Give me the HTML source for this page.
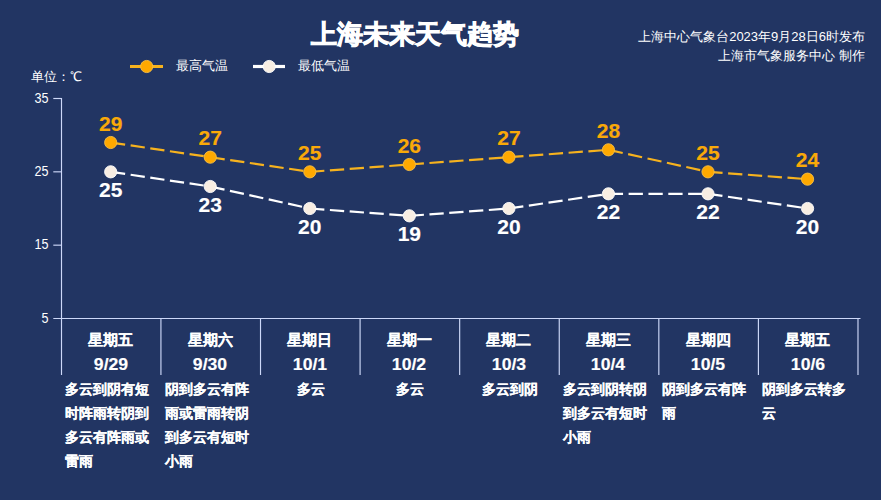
<!DOCTYPE html>
<html><head><meta charset="utf-8"><style>
html,body{margin:0;padding:0;}
body{width:881px;height:500px;background:#223563;position:relative;overflow:hidden;font-family:"Liberation Sans",sans-serif;}
.t{position:absolute;white-space:nowrap;line-height:1.2;}
.b{-webkit-text-stroke:0.15px currentColor;}
svg{position:absolute;left:0;top:0;}
</style></head><body>
<svg width="881" height="500" viewBox="0 0 881 500">
<line x1="61.5" y1="98" x2="61.5" y2="375" stroke="#cdd8f8" stroke-width="1.15"/>
<line x1="53.3" y1="318.5" x2="860.5" y2="318.5" stroke="#cdd8f8" stroke-width="1.15"/>
<line x1="53.3" y1="98.50" x2="61.5" y2="98.50" stroke="#cdd8f8" stroke-width="1.15"/>
<line x1="53.3" y1="171.83" x2="61.5" y2="171.83" stroke="#cdd8f8" stroke-width="1.15"/>
<line x1="53.3" y1="245.17" x2="61.5" y2="245.17" stroke="#cdd8f8" stroke-width="1.15"/>
<line x1="160.93" y1="318.5" x2="160.93" y2="375" stroke="#cdd8f8" stroke-width="1.15"/>
<line x1="260.51" y1="318.5" x2="260.51" y2="375" stroke="#cdd8f8" stroke-width="1.15"/>
<line x1="360.09" y1="318.5" x2="360.09" y2="375" stroke="#cdd8f8" stroke-width="1.15"/>
<line x1="459.67" y1="318.5" x2="459.67" y2="375" stroke="#cdd8f8" stroke-width="1.15"/>
<line x1="559.25" y1="318.5" x2="559.25" y2="375" stroke="#cdd8f8" stroke-width="1.15"/>
<line x1="658.83" y1="318.5" x2="658.83" y2="375" stroke="#cdd8f8" stroke-width="1.15"/>
<line x1="758.41" y1="318.5" x2="758.41" y2="375" stroke="#cdd8f8" stroke-width="1.15"/>
<line x1="857.99" y1="318.5" x2="857.99" y2="375" stroke="#cdd8f8" stroke-width="1.15"/>
<line x1="110.70" y1="142.50" x2="210.25" y2="157.17" stroke="#f6b21e" stroke-width="2.2" stroke-dasharray="14.3 5.55" stroke-dashoffset="-0.3"/>
<line x1="210.25" y1="157.17" x2="309.80" y2="171.83" stroke="#f6b21e" stroke-width="2.2" stroke-dasharray="14.3 5.55" stroke-dashoffset="-0.3"/>
<line x1="309.80" y1="171.83" x2="409.35" y2="164.50" stroke="#f6b21e" stroke-width="2.2" stroke-dasharray="14.3 5.55" stroke-dashoffset="-0.3"/>
<line x1="409.35" y1="164.50" x2="508.90" y2="157.17" stroke="#f6b21e" stroke-width="2.2" stroke-dasharray="14.3 5.55" stroke-dashoffset="-0.3"/>
<line x1="508.90" y1="157.17" x2="608.45" y2="149.83" stroke="#f6b21e" stroke-width="2.2" stroke-dasharray="14.3 5.55" stroke-dashoffset="-0.3"/>
<line x1="608.45" y1="149.83" x2="708.00" y2="171.83" stroke="#f6b21e" stroke-width="2.2" stroke-dasharray="14.3 5.55" stroke-dashoffset="-0.3"/>
<line x1="708.00" y1="171.83" x2="807.55" y2="179.17" stroke="#f6b21e" stroke-width="2.2" stroke-dasharray="14.3 5.55" stroke-dashoffset="-0.3"/>
<line x1="110.70" y1="171.83" x2="210.25" y2="186.50" stroke="#ffffff" stroke-width="2.2" stroke-dasharray="14.3 5.55" stroke-dashoffset="-0.3"/>
<line x1="210.25" y1="186.50" x2="309.80" y2="208.50" stroke="#ffffff" stroke-width="2.2" stroke-dasharray="14.3 5.55" stroke-dashoffset="-0.3"/>
<line x1="309.80" y1="208.50" x2="409.35" y2="215.83" stroke="#ffffff" stroke-width="2.2" stroke-dasharray="14.3 5.55" stroke-dashoffset="-0.3"/>
<line x1="409.35" y1="215.83" x2="508.90" y2="208.50" stroke="#ffffff" stroke-width="2.2" stroke-dasharray="14.3 5.55" stroke-dashoffset="-0.3"/>
<line x1="508.90" y1="208.50" x2="608.45" y2="193.83" stroke="#ffffff" stroke-width="2.2" stroke-dasharray="14.3 5.55" stroke-dashoffset="-0.3"/>
<line x1="608.45" y1="193.83" x2="708.00" y2="193.83" stroke="#ffffff" stroke-width="2.2" stroke-dasharray="14.3 5.55" stroke-dashoffset="-0.3"/>
<line x1="708.00" y1="193.83" x2="807.55" y2="208.50" stroke="#ffffff" stroke-width="2.2" stroke-dasharray="14.3 5.55" stroke-dashoffset="-0.3"/>
<circle cx="110.70" cy="142.50" r="6.1" fill="#ffa900" stroke="#f7be45" stroke-width="0.9"/>
<circle cx="210.25" cy="157.17" r="6.1" fill="#ffa900" stroke="#f7be45" stroke-width="0.9"/>
<circle cx="309.80" cy="171.83" r="6.1" fill="#ffa900" stroke="#f7be45" stroke-width="0.9"/>
<circle cx="409.35" cy="164.50" r="6.1" fill="#ffa900" stroke="#f7be45" stroke-width="0.9"/>
<circle cx="508.90" cy="157.17" r="6.1" fill="#ffa900" stroke="#f7be45" stroke-width="0.9"/>
<circle cx="608.45" cy="149.83" r="6.1" fill="#ffa900" stroke="#f7be45" stroke-width="0.9"/>
<circle cx="708.00" cy="171.83" r="6.1" fill="#ffa900" stroke="#f7be45" stroke-width="0.9"/>
<circle cx="807.55" cy="179.17" r="6.1" fill="#ffa900" stroke="#f7be45" stroke-width="0.9"/>
<circle cx="110.70" cy="171.83" r="6.1" fill="#f8eee3" stroke="#ffffff" stroke-width="0.9"/>
<circle cx="210.25" cy="186.50" r="6.1" fill="#f8eee3" stroke="#ffffff" stroke-width="0.9"/>
<circle cx="309.80" cy="208.50" r="6.1" fill="#f8eee3" stroke="#ffffff" stroke-width="0.9"/>
<circle cx="409.35" cy="215.83" r="6.1" fill="#f8eee3" stroke="#ffffff" stroke-width="0.9"/>
<circle cx="508.90" cy="208.50" r="6.1" fill="#f8eee3" stroke="#ffffff" stroke-width="0.9"/>
<circle cx="608.45" cy="193.83" r="6.1" fill="#f8eee3" stroke="#ffffff" stroke-width="0.9"/>
<circle cx="708.00" cy="193.83" r="6.1" fill="#f8eee3" stroke="#ffffff" stroke-width="0.9"/>
<circle cx="807.55" cy="208.50" r="6.1" fill="#f8eee3" stroke="#ffffff" stroke-width="0.9"/>
<line x1="130" y1="66.5" x2="163" y2="66.5" stroke="#f6b21e" stroke-width="3.2"/>
<circle cx="146.7" cy="66.5" r="6.1" fill="#ffa900" stroke="#f7be45" stroke-width="0.9"/>
<line x1="253" y1="66.5" x2="285" y2="66.5" stroke="#ffffff" stroke-width="3.2"/>
<circle cx="269.2" cy="66.5" r="6.1" fill="#f8eee3" stroke="#ffffff" stroke-width="0.9"/>
</svg>
<div class="t b" style="top:18.8px;font-size:26px;color:#ffffff;font-weight:bold;left:311px;-webkit-text-stroke:0.9px #fff;">上海未来天气趋势</div>
<div class="t" style="top:29px;font-size:13px;color:#ffffff;right:16px;text-align:right;">上海中心气象台2023年9月28日6时发布</div>
<div class="t" style="top:48px;font-size:13px;color:#ffffff;right:16px;text-align:right;">上海市气象服务中心 制作</div>
<div class="t" style="top:58px;font-size:13px;color:#ffffff;left:176px;">最高气温</div>
<div class="t" style="top:58px;font-size:13px;color:#ffffff;left:298px;">最低气温</div>
<div class="t" style="top:68.5px;font-size:13px;color:#ffffff;left:31px;">单位：℃</div>
<div class="t" style="left:0;width:48.5px;text-align:right;top:89.5px;font-size:14px;transform:scaleX(0.9);transform-origin:100% 50%;color:#ffffff">35</div>
<div class="t" style="left:0;width:48.5px;text-align:right;top:162.8px;font-size:14px;transform:scaleX(0.9);transform-origin:100% 50%;color:#ffffff">25</div>
<div class="t" style="left:0;width:48.5px;text-align:right;top:236.2px;font-size:14px;transform:scaleX(0.9);transform-origin:100% 50%;color:#ffffff">15</div>
<div class="t" style="left:0;width:48.5px;text-align:right;top:309.5px;font-size:14px;transform:scaleX(0.9);transform-origin:100% 50%;color:#ffffff">5</div>
<div class="t b" style="top:330.5px;font-size:15px;color:#ffffff;font-weight:bold;left:60.7px;width:100px;text-align:center;">星期五</div>
<div class="t b" style="top:355px;font-size:16px;color:#ffffff;font-weight:bold;left:60.7px;width:100px;text-align:center;transform:scaleX(1.1);">9/29</div>
<div class="t b" style="top:110.5px;font-size:21px;color:#f9a908;font-weight:bold;left:60.7px;width:100px;text-align:center;">29</div>
<div class="t b" style="top:177.23333333333335px;font-size:21px;color:#ffffff;font-weight:bold;left:60.7px;width:100px;text-align:center;">25</div>
<div class="t b" style="top:381px;font-size:14px;color:#ffffff;font-weight:bold;left:64.6px;">多云到阴有短</div>
<div class="t b" style="top:405px;font-size:14px;color:#ffffff;font-weight:bold;left:64.6px;">时阵雨转阴到</div>
<div class="t b" style="top:429px;font-size:14px;color:#ffffff;font-weight:bold;left:64.6px;">多云有阵雨或</div>
<div class="t b" style="top:453px;font-size:14px;color:#ffffff;font-weight:bold;left:64.6px;">雷雨</div>
<div class="t b" style="top:330.5px;font-size:15px;color:#ffffff;font-weight:bold;left:160.25px;width:100px;text-align:center;">星期六</div>
<div class="t b" style="top:355px;font-size:16px;color:#ffffff;font-weight:bold;left:160.25px;width:100px;text-align:center;transform:scaleX(1.1);">9/30</div>
<div class="t b" style="top:125.16666666666669px;font-size:21px;color:#f9a908;font-weight:bold;left:160.25px;width:100px;text-align:center;">27</div>
<div class="t b" style="top:191.9px;font-size:21px;color:#ffffff;font-weight:bold;left:160.25px;width:100px;text-align:center;">23</div>
<div class="t b" style="top:381px;font-size:14px;color:#ffffff;font-weight:bold;left:164.53px;">阴到多云有阵</div>
<div class="t b" style="top:405px;font-size:14px;color:#ffffff;font-weight:bold;left:164.53px;">雨或雷雨转阴</div>
<div class="t b" style="top:429px;font-size:14px;color:#ffffff;font-weight:bold;left:164.53px;">到多云有短时</div>
<div class="t b" style="top:453px;font-size:14px;color:#ffffff;font-weight:bold;left:164.53px;">小雨</div>
<div class="t b" style="top:330.5px;font-size:15px;color:#ffffff;font-weight:bold;left:259.8px;width:100px;text-align:center;">星期日</div>
<div class="t b" style="top:355px;font-size:16px;color:#ffffff;font-weight:bold;left:259.8px;width:100px;text-align:center;transform:scaleX(1.1);">10/1</div>
<div class="t b" style="top:139.83333333333334px;font-size:21px;color:#f9a908;font-weight:bold;left:259.8px;width:100px;text-align:center;">25</div>
<div class="t b" style="top:213.9px;font-size:21px;color:#ffffff;font-weight:bold;left:259.8px;width:100px;text-align:center;">20</div>
<div class="t b" style="top:381px;font-size:14px;color:#ffffff;font-weight:bold;left:260.8px;width:100px;text-align:center;">多云</div>
<div class="t b" style="top:330.5px;font-size:15px;color:#ffffff;font-weight:bold;left:359.34999999999997px;width:100px;text-align:center;">星期一</div>
<div class="t b" style="top:355px;font-size:16px;color:#ffffff;font-weight:bold;left:359.34999999999997px;width:100px;text-align:center;transform:scaleX(1.1);">10/2</div>
<div class="t b" style="top:132.5px;font-size:21px;color:#f9a908;font-weight:bold;left:359.34999999999997px;width:100px;text-align:center;">26</div>
<div class="t b" style="top:221.23333333333335px;font-size:21px;color:#ffffff;font-weight:bold;left:359.34999999999997px;width:100px;text-align:center;">19</div>
<div class="t b" style="top:381px;font-size:14px;color:#ffffff;font-weight:bold;left:360.34999999999997px;width:100px;text-align:center;">多云</div>
<div class="t b" style="top:330.5px;font-size:15px;color:#ffffff;font-weight:bold;left:458.9px;width:100px;text-align:center;">星期二</div>
<div class="t b" style="top:355px;font-size:16px;color:#ffffff;font-weight:bold;left:458.9px;width:100px;text-align:center;transform:scaleX(1.1);">10/3</div>
<div class="t b" style="top:125.16666666666669px;font-size:21px;color:#f9a908;font-weight:bold;left:458.9px;width:100px;text-align:center;">27</div>
<div class="t b" style="top:213.9px;font-size:21px;color:#ffffff;font-weight:bold;left:458.9px;width:100px;text-align:center;">20</div>
<div class="t b" style="top:381px;font-size:14px;color:#ffffff;font-weight:bold;left:459.9px;width:100px;text-align:center;">多云到阴</div>
<div class="t b" style="top:330.5px;font-size:15px;color:#ffffff;font-weight:bold;left:558.45px;width:100px;text-align:center;">星期三</div>
<div class="t b" style="top:355px;font-size:16px;color:#ffffff;font-weight:bold;left:558.45px;width:100px;text-align:center;transform:scaleX(1.1);">10/4</div>
<div class="t b" style="top:117.83333333333334px;font-size:21px;color:#f9a908;font-weight:bold;left:558.45px;width:100px;text-align:center;">28</div>
<div class="t b" style="top:199.23333333333335px;font-size:21px;color:#ffffff;font-weight:bold;left:558.45px;width:100px;text-align:center;">22</div>
<div class="t b" style="top:381px;font-size:14px;color:#ffffff;font-weight:bold;left:562.85px;">多云到阴转阴</div>
<div class="t b" style="top:405px;font-size:14px;color:#ffffff;font-weight:bold;left:562.85px;">到多云有短时</div>
<div class="t b" style="top:429px;font-size:14px;color:#ffffff;font-weight:bold;left:562.85px;">小雨</div>
<div class="t b" style="top:330.5px;font-size:15px;color:#ffffff;font-weight:bold;left:658.0px;width:100px;text-align:center;">星期四</div>
<div class="t b" style="top:355px;font-size:16px;color:#ffffff;font-weight:bold;left:658.0px;width:100px;text-align:center;transform:scaleX(1.1);">10/5</div>
<div class="t b" style="top:139.83333333333334px;font-size:21px;color:#f9a908;font-weight:bold;left:658.0px;width:100px;text-align:center;">25</div>
<div class="t b" style="top:199.23333333333335px;font-size:21px;color:#ffffff;font-weight:bold;left:658.0px;width:100px;text-align:center;">22</div>
<div class="t b" style="top:381px;font-size:14px;color:#ffffff;font-weight:bold;left:662.4300000000001px;">阴到多云有阵</div>
<div class="t b" style="top:405px;font-size:14px;color:#ffffff;font-weight:bold;left:662.4300000000001px;">雨</div>
<div class="t b" style="top:330.5px;font-size:15px;color:#ffffff;font-weight:bold;left:757.5500000000001px;width:100px;text-align:center;">星期五</div>
<div class="t b" style="top:355px;font-size:16px;color:#ffffff;font-weight:bold;left:757.5500000000001px;width:100px;text-align:center;transform:scaleX(1.1);">10/6</div>
<div class="t b" style="top:147.16666666666669px;font-size:21px;color:#f9a908;font-weight:bold;left:757.5500000000001px;width:100px;text-align:center;">24</div>
<div class="t b" style="top:213.9px;font-size:21px;color:#ffffff;font-weight:bold;left:757.5500000000001px;width:100px;text-align:center;">20</div>
<div class="t b" style="top:381px;font-size:14px;color:#ffffff;font-weight:bold;left:762.01px;">阴到多云转多</div>
<div class="t b" style="top:405px;font-size:14px;color:#ffffff;font-weight:bold;left:762.01px;">云</div>
</body></html>
